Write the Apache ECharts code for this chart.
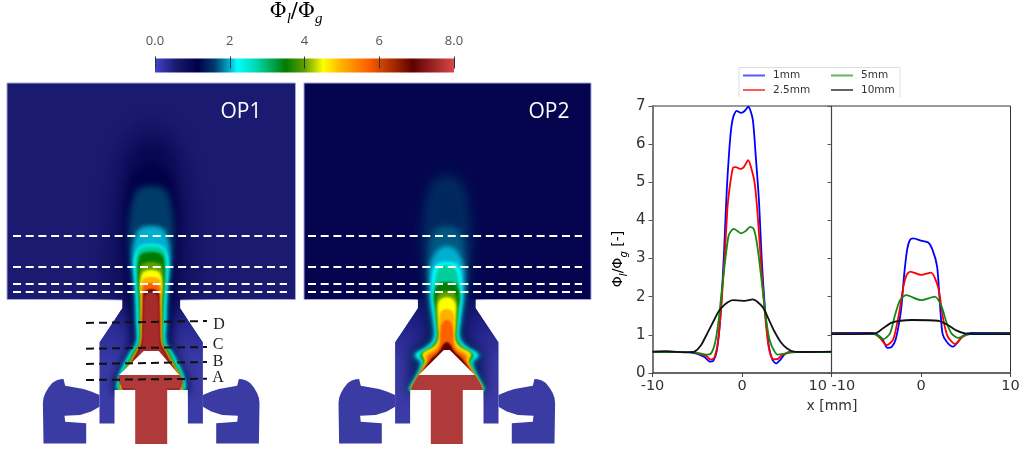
<!DOCTYPE html>
<html><head><meta charset="utf-8">
<style>html,body{margin:0;padding:0;background:#fff}#c{width:1024px;height:453px;filter:blur(0.45px)}</style>
<script src="https://cdn.jsdelivr.net/npm/echarts@6/dist/echarts.min.js"></script>
</head><body><div id="c"></div>
<script>
// ---------- line plot data ----------
const seriesNames = ['1mm','2.5mm','5mm','10mm'];
const seriesColors = ['#0000ff','#ff0000','#118a11','#111111'];
const op1_1mm = [[-10,.55],[-6,.55],[-5,.5],[-4.2,.42],[-3.6,.3],[-3.2,.32],[-2.8,.6],[-2.4,1.5],[-2,3.2],[-1.7,4.8],[-1.3,6.2],[-1,6.7],[-.6,6.87],[-.1,6.82],[.3,6.87],[.7,6.98],[1.2,6.65],[1.5,5.8],[1.9,4.5],[2.2,3],[2.6,1.6],[3,.7],[3.4,.35],[3.8,.25],[4.3,.35],[4.8,.5],[5.5,.55],[10,.55]];
const op1_25mm = [[-10,.55],[-5.5,.55],[-4.8,.5],[-4,.45],[-3.5,.35],[-3.1,.4],[-2.7,.8],[-2.3,1.8],[-1.9,3.2],[-1.6,4.4],[-1.3,5],[-1,5.38],[-.7,5.4],[-.2,5.35],[.2,5.4],[.7,5.58],[1,5.4],[1.4,5],[1.7,4.3],[2,3.3],[2.4,2],[2.8,1],[3.1,.55],[3.5,.36],[3.9,.36],[4.4,.45],[5,.52],[6,.55],[10,.55]];
const op1_5mm = [[-10,.55],[-5.5,.55],[-4.8,.52],[-4,.48],[-3.5,.5],[-3,.8],[-2.6,1.4],[-2.2,2.3],[-1.8,3.1],[-1.5,3.6],[-1.2,3.73],[-.9,3.78],[-.5,3.72],[-.1,3.66],[.4,3.72],[.9,3.83],[1.3,3.78],[1.6,3.5],[1.9,3],[2.3,2.2],[2.7,1.4],[3.1,.85],[3.6,.58],[4,.48],[4.6,.5],[5.3,.54],[6,.55],[10,.55]];
const op1_10mm = [[-10,.56],[-8.5,.57],[-6,.54],[-5.3,.56],[-4.6,.72],[-3.9,1.03],[-3.2,1.35],[-2.6,1.62],[-2,1.78],[-1.5,1.87],[-1,1.91],[-.3,1.9],[.3,1.89],[1.2,1.93],[1.8,1.85],[2.4,1.7],[3,1.4],[3.6,1.1],[4.3,.82],[5,.65],[5.8,.56],[7,.55],[10,.56]];
const op2_1mm = [[-10,1.05],[-5.6,1.05],[-5,1.02],[-4.3,.88],[-3.76,.66],[-3.3,.68],[-2.83,.88],[-2.23,1.65],[-1.9,2.53],[-1.56,3.22],[-1.23,3.49],[-.86,3.53],[0,3.47],[.8,3.42],[1.3,3.22],[1.8,2.79],[2.1,1.87],[2.4,1.04],[2.87,.82],[3.57,.69],[4.17,.82],[4.7,.98],[5.6,1.05],[10,1.05]];
const op2_25mm = [[-10,1.03],[-5.3,1.03],[-4.6,.92],[-3.83,.73],[-3.1,.88],[-2.45,1.57],[-1.97,2.26],[-1.6,2.57],[-1.2,2.66],[0,2.57],[1.1,2.63],[1.9,2.26],[2.5,1.39],[3,.95],[3.8,.76],[4.5,.92],[5.3,1.02],[10,1.03]];
const op2_5mm = [[-10,1.03],[-5.2,1.02],[-4.2,.89],[-3.46,1.04],[-2.9,1.52],[-2.34,1.91],[-1.67,2.04],[0,1.91],[1.56,2],[2.3,1.74],[2.87,1.31],[3.4,1.04],[4.17,.92],[5.1,1],[6,1.03],[10,1.03]];
const op2_10mm = [[-10,1.02],[-5.1,1.04],[-4.2,1.18],[-3.27,1.32],[-2.3,1.37],[-1,1.39],[1.9,1.37],[3,1.26],[4,1.11],[4.9,1.04],[6,1.02],[10,1.02]];
const leftCurves = [op1_1mm,op1_25mm,op1_5mm,op1_10mm];
const rightCurves = [op2_1mm,op2_25mm,op2_5mm,op2_10mm];
const yTicks = {min:0,max:7,interval:1};

// ---------- colour scale ----------
const cmapValues = [0,.55,1.15,1.6,2.0,2.2,2.7,3.5,4.0,4.5,5,5.7,6.9,8];
const cmapColors = ['#4444cc','#1a1a70','#000048','#003c6a','#00b0d0','#00ffff','#00d8b0','#007c00','#60a000','#ffff00','#ffb000','#ff6000','#600000','#d84848'];
const colorbarTicks = {0:'0.0',2:'2',4:'4',6:'6',8:'8.0'};

// ---------- burner geometry (dx from burner axis, y) ----------
const centres = [151.2,446.8];
const panels = [[7,83,295.5,299.5],[304,83,591,299.5]];
const panelValues = [.55,1.05];
const bodyHalf = [[-29,299],[-29,308],[-51.7,342],[-51.7,423.5],[-36.5,423.5],[-36.5,390]];
const maskHalf = [[-150,300.2],[-29,300.2],[-29,308],[-51.7,342],[-150,342]];
const swirlerLeft = [[-107.7,443.5],[-65,443.5],[-65,423.3],[-86,421.7],[-86.7,415.7],[-71,415],[-60,411.5],[-51.7,406.7],[-51.7,395],[-60,391.5],[-67.7,389],[-86,385.7],[-87.7,379],[-91,379.3],[-95,380.5],[-99,383],[-103,388],[-106,393.3],[-107.7,398],[-108.3,403]];
const gapHalf = [[-36.5,390],[36.5,390],[36.5,430],[-36.5,430]];
const coneOP1 = [[-7.5,351],[7.5,351],[28,375],[-32,375]];
const coneOP2 = [[-3,350],[3,350],[28,375],[-28,375]];
const capOP1 = [[-32,375],[28,375],[32,380],[30,388],[16,388],[16,444],[-16,444],[-16,388],[-29,388],[-33,380]];
const capOP2 = [[-28,375],[28,375],[33,383],[36,390],[16,390],[16,444],[-16,444],[-16,390],[-36,390],[-33,383]];

// ---------- field contours: [value, blur, [[y, half width], ...]] ----------
const fieldOP1 = [
 [.8,30,[[120,0],[135,24],[170,36],[210,42],[250,44],[298,42]]],
 [1.0,16,[[140,0],[150,18],[175,26],[210,30],[250,30],[298,24],[310,22],[345,20],[365,28],[385,36],[391,36]]],
 [1.15,8,[[165,0],[172,17],[200,25],[240,26],[270,24],[298,22],[320,19],[345,18],[365,26],[385,35],[391,35]]],
 [1.6,6,[[186,0],[190,14],[212,21],[240,23],[265,21],[285,18],[300,17],[320,16.5],[342,16],[352,22],[365,29],[378,34],[390,34]]],
 [2.0,4,[[226,0],[229,12],[240,17],[252,19],[265,19],[285,17],[300,16],[320,15.5],[342,15],[352,21],[365,28],[378,33],[390,33]]],
 [2.2,3,[[244,0],[246,11],[254,16],[262,17.5],[275,17],[300,15],[320,14.5],[343,14],[352,20],[365,27],[378,32.5],[390,32]]],
 [2.8,3,[[246,0],[248,11],[255,14.5],[270,15.5],[285,14.5],[300,13.5],[320,13],[343,13],[352,19],[365,25.5],[378,31.5],[390,31]]],
 [3.5,2.5,[[252,0],[254,10],[260,13],[280,13.5],[300,12],[320,11.5],[343,12],[352,17.5],[365,24],[378,30.5],[390,30]]],
 [4.0,2.5,[[262,0],[264,9],[270,11.5],[285,12],[300,11],[320,10.7],[343,11],[352,16],[365,23],[378,30],[390,29.5]]],
 [4.5,2.5,[[270,0],[272,8],[278,10.5],[288,11],[300,10],[320,10],[343,10.5],[352,15],[365,22],[378,29],[390,29]]],
 [5.0,2,[[277,0],[279,8],[285,10],[292,10],[300,9.5],[320,9.7],[343,10.2],[352,14.7],[365,21.7],[378,28.7],[390,28.5]]],
 [5.7,2,[[283,0],[285,7],[290,9],[300,9],[320,9.5],[343,10],[352,14.5],[365,21.5],[378,28.5],[390,28]]],
 [6.9,2,[[289,0],[291,6],[295,8],[300,8],[320,8.5],[343,9.5],[352,14],[365,21],[378,28],[390,27]]],
 [7.55,2,[[292,0],[294,5],[297,7],[320,8],[343,9],[352,13],[365,20],[378,27],[390,26]]]
];
const fieldOP2 = [
 [1.2,18,[[150,0],[165,16],[200,26],[236,30],[265,28],[299,22],[320,18],[340,20],[350,30],[357,40],[365,34],[375,33],[390,38]]],
 [1.45,10,[[175,0],[186,17],[215,23],[240,25],[265,23],[299,19],[320,16],[338,15],[348,23],[356,35],[363,28],[372,30],[384,36],[390,37]]],
 [1.7,6,[[226,0],[232,13],[245,17],[265,19],[299,18],[320,15],[338,14],[348,22],[356,34],[363,27],[372,29],[384,35],[390,37]]],
 [2.0,4,[[246,0],[250,9],[258,14],[270,17.5],[299,17],[320,14],[338,13],[347,20],[355,32.5],[362,26],[372,28.5],[384,34.7],[390,36.7]]],
 [2.2,3,[[262,0],[264,10],[272,14],[285,15.5],[299,15.5],[320,13],[338,12],[346,18],[355,31],[362,25],[372,28],[384,34.5],[390,36.5]]],
 [2.8,3,[[265,0],[268,8],[276,11],[286,12.5],[299,13.5],[320,11.5],[338,10.5],[346,16],[355,28],[362,24],[372,27.5],[384,34],[390,36]]],
 [3.5,2.5,[[282,0],[284,9],[290,12],[299,13],[310,11],[325,10],[338,9.5],[346,14],[355,26],[362,23],[372,27],[384,33.7],[390,35.7]]],
 [4.0,2.5,[[291,0],[293,7],[299,10],[308,10.5],[325,9.5],[338,8.7],[346,13],[354,25],[361,22],[372,26.5],[384,33.4],[390,35.5]]],
 [4.5,2.5,[[297,0],[299,6],[304,9],[315,9],[325,8.5],[338,8],[346,12],[354,24],[361,21.5],[372,26],[384,33.2],[390,35.3]]],
 [5.0,2,[[309,0],[312,6],[322,7.5],[332,7.5],[340,7.5],[347,11],[355,22],[361,21],[372,26],[384,33],[390,35]]],
 [5.7,2,[[320,0],[324,5],[335,6.5],[344,7],[350,10],[356,19],[362,20],[372,25.5],[384,33],[390,35]]],
 [6.9,2,[[342,0],[345,4],[349,6],[353,9],[358,15],[363,18.5],[372,25],[384,32.5],[390,34.5]]]
];

// ---------- annotations ----------
const whiteLineYs = [236,267,284,292];
const whiteLineSpans = [[13,287],[308,582]];
const stationLines = [[[86,323],[207,321]],[[86,348.7],[207,347]],[[86,364],[207,362]],[[86,380],[207,378.7]]];
const stationLabels = [['D',219,325],['C',218,345],['B',218,362],['A',218,378]];
const opLabels = [['OP1',241,112],['OP2',549,112]];
const legendBox = [[739,97],[739,67.5],[900,67.5],[900,97]];

// ---------- helpers ----------
function hex(c){return [1,3,5].map(i=>parseInt(c.substr(i,2),16));}
function colourOf(v){
  for(let i=1;i<cmapValues.length;i++){ if(v<=cmapValues[i]){
    const t=(v-cmapValues[i-1])/(cmapValues[i]-cmapValues[i-1]),a=hex(cmapColors[i-1]),b=hex(cmapColors[i]);
    return 'rgb('+a.map((x,k)=>Math.round(x+(b[k]-x)*t)).join(',')+')';
  }}
  return cmapColors[cmapColors.length-1];
}
const mirror = half => half.concat(half.slice().reverse().map(p=>[-p[0],p[1]]));
const shift = (pts,cx) => pts.map(p=>[p[0]+cx,p[1]]);
const profile = (rows,cx) => {
  const r=rows.map(p=>[cx+p[1],p[0]]), l=rows.slice(1).reverse().map(p=>[cx-p[1],p[0]]);
  return r.concat(l);
};
const bodyGrad = (a,b)=>new echarts.graphic.LinearGradient(0,0,0,1,[{offset:0,color:a},{offset:.22,color:b},{offset:.5,color:'#3a3aa6'},{offset:1,color:'#3b3ba8'}]);

// ---------- shape list ----------
const shapes = [];
const OFF = 3000; // soft shapes are painted by their shadow only
[0,1].forEach(k=>{
  const cx=centres[k],p=panels[k];
  shapes.push({pts:[[p[0],p[1]],[p[2],p[1]],[p[2],p[3]],[p[0],p[3]]],fill:colourOf(panelValues[k]),stroke:'#a4a4dc'});
  shapes.push({pts:shift(mirror(bodyHalf),cx),fill:k?bodyGrad('#14146e','#22228a'):bodyGrad('#1c1c78','#2a2a94')});
  shapes.push({pts:shift(swirlerLeft,cx),fill:'#3b3ba4'});
  shapes.push({pts:shift(swirlerLeft.map(q=>[-q[0],q[1]]),cx),fill:'#3b3ba4'});
  (k?fieldOP2:fieldOP1).forEach(lv=>{
    shapes.push({pts:profile(lv[2],cx),fill:colourOf(lv[0]),smooth:.35,soft:lv[1]});
  });
  shapes.push({pts:shift(gapHalf,cx),fill:'#ffffff'});
  shapes.push({pts:shift(maskHalf,cx),fill:'#ffffff'});
  shapes.push({pts:shift(maskHalf.map(q=>[-q[0],q[1]]),cx),fill:'#ffffff'});
  shapes.push({pts:shift(k?coneOP2:coneOP1,cx),fill:'#ffffff'});
  shapes.push({pts:shift(k?capOP2:capOP1,cx),fill:'#ae3a3a'});
});

// ---------- series ----------
const series = [{
  type:'custom',xAxisIndex:0,yAxisIndex:0,silent:true,z:1,clip:false,
  data:shapes.map((s,i)=>[i]),
  renderItem:(params,api)=>{
    const s=shapes[api.value(0)],d=s.soft?OFF:0;
    return {type:'polygon',shape:{points:s.pts.map(q=>{const c=api.coord(q);return [c[0]-d,c[1]];}),smooth:s.smooth||0},
      style:{fill:s.fill,stroke:s.stroke||null,lineWidth:s.stroke?1:0,
        shadowBlur:s.soft||0,shadowOffsetX:d,shadowColor:s.soft?s.fill:'transparent'}};
  }
}];
whiteLineSpans.forEach(sp=>whiteLineYs.forEach(y=>series.push({
  type:'line',xAxisIndex:0,yAxisIndex:0,z:3,silent:true,symbol:'none',
  lineStyle:{color:'#ffffff',width:2,type:[8,4.7]},data:[[sp[0],y],[sp[1],y]]})));
stationLines.forEach(l=>series.push({
  type:'line',xAxisIndex:0,yAxisIndex:0,z:3,silent:true,symbol:'none',
  lineStyle:{color:'#111111',width:2,type:[8,5]},data:l}));
series.push({type:'line',xAxisIndex:0,yAxisIndex:0,z:3,silent:true,symbol:'none',
  lineStyle:{color:'#dddddd',width:1},data:legendBox});

// text items on the page-scale axes
const phiRich = {a:{fontFamily:'DejaVu Serif',fontSize:21,color:'#222'},s:{fontFamily:'Liberation Serif',fontStyle:'italic',fontSize:15,color:'#222',verticalAlign:'bottom',lineHeight:29}};
const axisRich = {a:{fontFamily:'DejaVu Sans',fontSize:14,color:'#333'},s:{fontFamily:'DejaVu Sans',fontStyle:'italic',fontSize:10,color:'#333',verticalAlign:'bottom',lineHeight:22}};
const texts = [
 {t:'{a|Φ}{s|l}{a|/Φ}{s|g}',x:296,y:12,rich:phiRich},
 {t:'{a|Φ}{s|l}{a|/Φ}{s|g}{a| [-]}',x:618,y:259,rot:Math.PI/2,rich:axisRich},
 {t:'x [mm]',x:832,y:406,font:'DejaVu Sans',size:14,color:'#333'}
];
opLabels.forEach(o=>texts.push({t:o[0],x:o[1],y:o[2],font:'Open Sans',size:21,color:'#ffffff'}));
stationLabels.forEach(o=>texts.push({t:o[0],x:o[1],y:o[2],font:'Liberation Serif',size:16,color:'#222'}));
series.push({type:'custom',xAxisIndex:0,yAxisIndex:0,silent:true,z:4,clip:false,
  data:texts.map((s,i)=>[i]),
  renderItem:(params,api)=>{
    const s=texts[api.value(0)],c=api.coord([s.x,s.y]);
    return {type:'text',x:c[0],y:c[1],rotation:s.rot||0,
      style:{text:s.t,align:'center',verticalAlign:'middle',rich:s.rich,fontFamily:s.font,fontSize:s.size,fill:s.color}};
  }});

// colour bar
series.push({type:'custom',xAxisIndex:3,yAxisIndex:3,silent:true,z:2,data:[[0]],
  renderItem:(params,api)=>{
    const a=api.coord([0,1]),b=api.coord([8,0]);
    return {type:'rect',shape:{x:a[0],y:a[1],width:b[0]-a[0],height:b[1]-a[1]},
      style:{fill:new echarts.graphic.LinearGradient(0,0,1,0,cmapValues.map((v,i)=>({offset:v/8,color:cmapColors[i]})))}};
  }});

// curves
[leftCurves,rightCurves].forEach((set,g)=>set.forEach((d,i)=>series.push({
  type:'line',name:seriesNames[i],xAxisIndex:g+1,yAxisIndex:g+1,z:5,symbol:'none',smooth:.25,clip:true,
  lineStyle:{color:seriesColors[i],width:1.8},itemStyle:{color:seriesColors[i]},data:d})));

const xLabel = {fontFamily:'DejaVu Sans',fontSize:14.5,color:'#333',margin:6,showMinLabel:true,showMaxLabel:true};
const plotX = (extra)=>Object.assign({type:'value',min:-10,max:10,interval:10,
  axisLine:{show:true,onZero:false,lineStyle:{color:'#555',width:1.5}},
  axisTick:{show:true,length:4,lineStyle:{color:'#444'}},
  splitLine:{show:false}},extra);
const plotY = (showLabels,color,width)=>({type:'value',min:yTicks.min,max:yTicks.max,interval:yTicks.interval,
  axisLine:{show:true,onZero:false,lineStyle:{color:color,width:width}},
  axisTick:{show:true,length:4,lineStyle:{color:'#555'}},
  splitLine:{show:false},
  axisLabel:{show:showLabels,fontFamily:'DejaVu Sans',fontSize:15,color:'#333',margin:7}});
const legendCommon = {orient:'vertical',itemWidth:22,itemHeight:2,itemGap:3.5,padding:0,itemStyle:{opacity:.65},
  icon:'rect',textStyle:{fontFamily:'DejaVu Sans',fontSize:10.5,color:'#333',padding:[0,0,0,3]}};

const option = {
  animation:false,backgroundColor:'#fff',
  grid:[
    {left:0,top:0,width:1024,height:453,show:false},
    {left:652.5,top:106,width:179,height:267,show:true,borderColor:'#333',borderWidth:1},
    {left:831.5,top:106,width:179,height:267,show:true,borderColor:'#333',borderWidth:1},
    {left:155,top:58.5,width:299,height:14,show:false}
  ],
  xAxis:[
    {type:'value',gridIndex:0,min:0,max:1024,show:false},
    plotX({gridIndex:1,axisLabel:Object.assign({},xLabel,{alignMaxLabel:'right',formatter:v=>v===10?'10 ':String(v)})}),
    plotX({gridIndex:2,axisLabel:Object.assign({},xLabel,{alignMinLabel:'left'})}),
    {type:'value',gridIndex:3,min:0,max:8,interval:2,position:'top',offset:-4,z:6,
      axisLine:{show:false},axisTick:{show:true,length:12,lineStyle:{color:'#333',width:1}},splitLine:{show:false},
      axisLabel:{fontFamily:'Open Sans',fontSize:13,color:'#555',margin:15,formatter:v=>colorbarTicks[v],showMinLabel:true,showMaxLabel:true}}
  ],
  yAxis:[
    {type:'value',gridIndex:0,min:0,max:453,inverse:true,show:false},
    Object.assign(plotY(true,'#777',2),{gridIndex:1}),
    Object.assign(plotY(false,'#444',1.2),{gridIndex:2}),
    {type:'value',gridIndex:3,min:0,max:1,show:false}
  ],
  legend:[
    Object.assign({},legendCommon,{left:743,top:70,data:seriesNames.slice(0,2)}),
    Object.assign({},legendCommon,{left:831,top:70,data:seriesNames.slice(2)})
  ],
  series
};
echarts.init(document.getElementById('c')).setOption(option);
</script></body></html>
